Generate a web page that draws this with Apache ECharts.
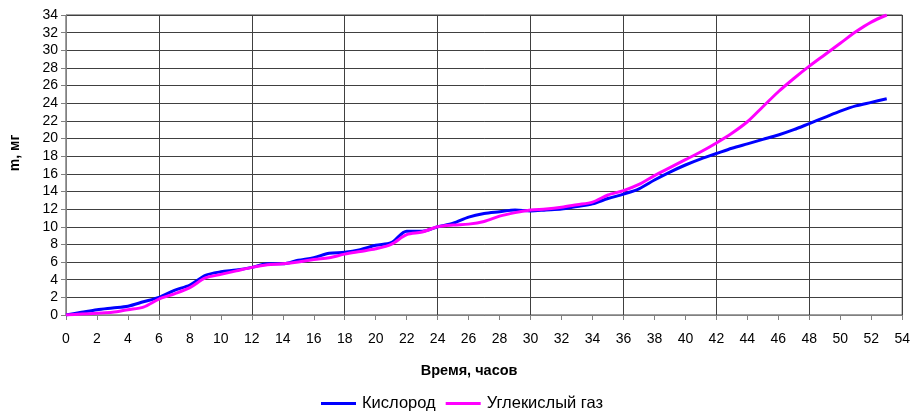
<!DOCTYPE html>
<html>
<head>
<meta charset="utf-8">
<script src="https://cdn.jsdelivr.net/npm/echarts@6/dist/echarts.min.js"></script>
<style>
  html, body { margin: 0; padding: 0; background: #fff; }
  #chart { width: 913px; height: 416px; }
</style>
</head>
<body>
<div id="chart"></div>
<script>
// часы
const hours = [];
for (let h = 0; h <= 53; h++) hours.push(h);

// Кислород, мг
const oxygen = [
  0, 0.3, 0.6, 0.8, 1.0, 1.5, 2.0, 2.8, 3.4, 4.5,
  4.9, 5.1, 5.4, 5.8, 5.8, 6.2, 6.5, 7.0, 7.1, 7.4,
  7.9, 8.2, 9.5, 9.5, 10.0, 10.4, 11.1, 11.5, 11.7, 11.9,
  11.8, 11.9, 12.0, 12.3, 12.6, 13.2, 13.7, 14.3, 15.3, 16.2,
  17.0, 17.7, 18.3, 18.9, 19.4, 19.9, 20.4, 21.0, 21.7, 22.4,
  23.1, 23.7, 24.1, 24.5
];

// Углекислый газ, мг
const co2 = [
  0, 0.1, 0.2, 0.3, 0.6, 0.9, 1.8, 2.4, 3.1, 4.2,
  4.6, 5.0, 5.4, 5.7, 5.8, 6.0, 6.3, 6.5, 6.9, 7.2,
  7.5, 8.0, 9.1, 9.4, 10.0, 10.2, 10.3, 10.6, 11.2, 11.6,
  11.9, 12.0, 12.2, 12.5, 12.8, 13.6, 14.1, 14.8, 15.8, 16.7,
  17.6, 18.5, 19.5, 20.6, 21.9, 23.6, 25.3, 26.8, 28.2, 29.5,
  30.8, 32.1, 33.2, 34.0
];

const seriesNames = ['Кислород', 'Углекислый газ'];

const chart = echarts.init(document.getElementById('chart'));
const font = 'Liberation Sans, Arial, sans-serif';

chart.setOption({
  animation: false,
  grid: { left: 63, right: 7, top: 15, bottom: 101, show: true, borderColor: '#404040', borderWidth: 1 },
  legend: {
    top: 395,
    left: 321,
    padding: 0,
    itemWidth: 35,
    itemHeight: 3,
    itemGap: 10,
    icon: 'rect',
    textStyle: { fontFamily: font, fontSize: 16.5, color: '#000', padding: [0, 0, 0, 1] },
    data: seriesNames
  },
  xAxis: [{
    type: 'value',
    min: 0, max: 54, interval: 2,
    name: 'Время, часов',
    nameLocation: 'middle',
    nameGap: 48,
    nameTextStyle: { fontFamily: font, fontSize: 14.5, fontWeight: 'bold', color: '#000', padding: [0, 30, 0, 0] },
    axisLine: { lineStyle: { color: '#808080' } },
    axisTick: { show: true, length: 5, lineStyle: { color: '#808080' } },
    axisLabel: { fontFamily: font, fontSize: 14, color: '#000', margin: 17 },
    splitLine: { show: false }
  }, {
    type: 'value',
    min: 0, max: 54, interval: 6,
    position: 'bottom',
    axisLine: { show: false },
    axisTick: { show: false },
    axisLabel: { show: false },
    splitLine: { show: true, lineStyle: { color: '#404040', width: 1 } }
  }],
  yAxis: {
    type: 'value',
    min: 0, max: 34, interval: 2,
    name: 'm, мг',
    nameLocation: 'middle',
    nameGap: 44,
    nameTextStyle: { fontFamily: font, fontSize: 14, fontWeight: 'bold', color: '#000', padding: [0, 0, 0, 24] },
    axisLine: { show: true, lineStyle: { color: '#808080' } },
    axisTick: { show: true, length: 5, lineStyle: { color: '#808080' } },
    axisLabel: { fontFamily: font, fontSize: 14, color: '#000', margin: 8 },
    splitLine: { show: true, lineStyle: { color: '#404040', width: 1 } }
  },
  series: [{
    name: seriesNames[0],
    type: 'line',
    data: hours.map((h, i) => [h, oxygen[i]]),
    showSymbol: false,
    smooth: 0.3,
    lineStyle: { color: '#0000ff', width: 3 },
    itemStyle: { color: '#0000ff' }
  }, {
    name: seriesNames[1],
    type: 'line',
    data: hours.map((h, i) => [h, co2[i]]),
    showSymbol: false,
    smooth: 0.3,
    lineStyle: { color: '#ff00ff', width: 3 },
    itemStyle: { color: '#ff00ff' }
  }]
});
</script>
</body>
</html>
